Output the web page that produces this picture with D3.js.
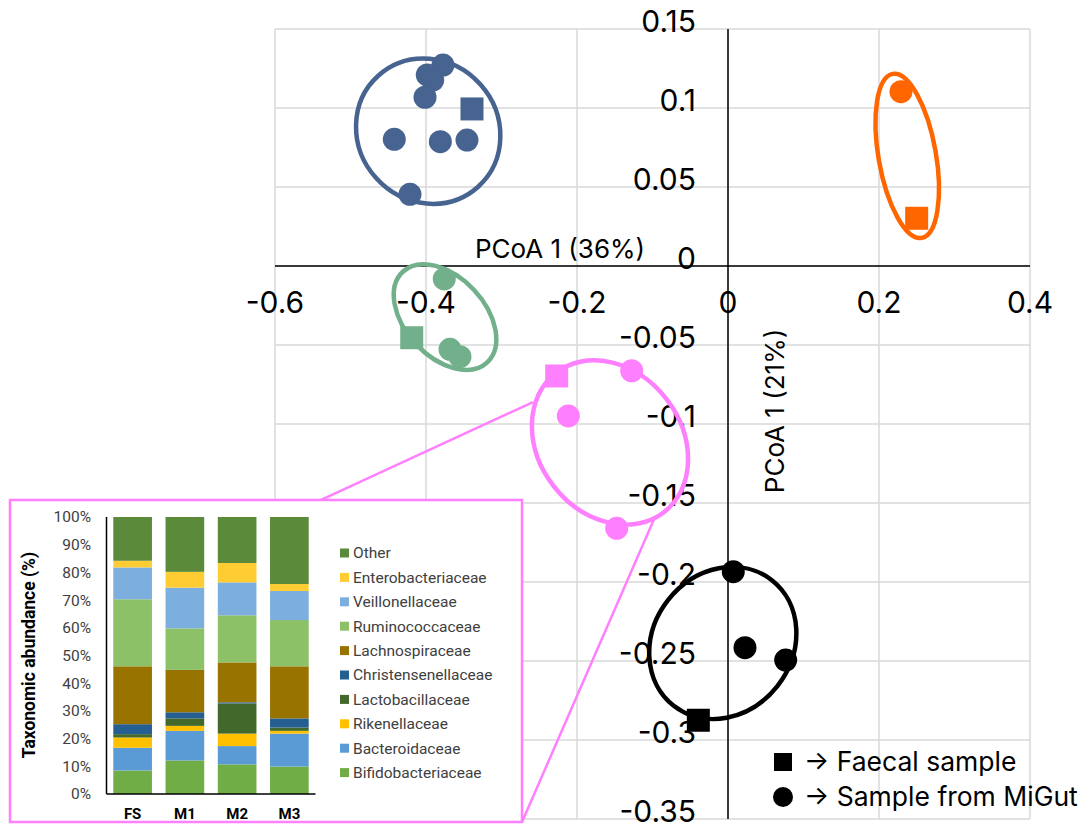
<!DOCTYPE html>
<html>
<head>
<meta charset="utf-8">
<script src="https://cdn.jsdelivr.net/npm/d3@7"></script>
<style>
  body { margin: 0; background: #fff; }
  svg { display: block; }
</style>
</head>
<body>
<svg id="chart" width="1086" height="824"></svg>
<script>
// ---- main PCoA data ----
const xTicks = [-0.6, -0.4, -0.2, 0, 0.2, 0.4];
const yTicks = [0.15, 0.1, 0.05, 0, -0.05, -0.1, -0.15, -0.2, -0.25, -0.3, -0.35];

const groupNames = ["blue", "orange", "green", "pink", "black"];
const groupColors = ["#476390", "#ff6600", "#72b08c", "#ff80ff", "#000000"];

// samples: group, PCoA1, PCoA2, type
const sampleGroup = ["blue", "blue", "blue", "blue", "blue", "blue", "blue", "blue", "blue",
    "orange", "orange",
    "green", "green", "green", "green",
    "pink", "pink", "pink", "pink",
    "black", "black", "black", "black"];
const sampleX = [-0.3775, -0.3983, -0.3911, -0.4013, -0.4420, -0.3810, -0.3457, -0.4212, -0.3391,
    0.2291, 0.2499,
    -0.3758, -0.3682, -0.3550, -0.4189,
    -0.2269, -0.1276, -0.2115, -0.1474,
    0.0070, 0.0225, 0.0764, -0.0393];
const sampleY = [0.1272, 0.1209, 0.1177, 0.1068, 0.0802, 0.0787, 0.0797, 0.0454, 0.0994,
    0.1103, 0.0302,
    -0.0082, -0.0527, -0.0574, -0.0454,
    -0.0696, -0.0663, -0.0949, -0.1660,
    -0.1935, -0.2416, -0.2494, -0.2875];
const sampleType = ["migut", "migut", "migut", "migut", "migut", "migut", "migut", "migut", "faecal",
    "migut", "faecal",
    "migut", "migut", "migut", "faecal",
    "faecal", "migut", "migut", "migut",
    "migut", "migut", "migut", "faecal"];

// group ellipses: centre (data), semi axes (in PCoA1 units), rotation (deg)
const ellipseCX = [-0.3971, 0.2374, -0.3748, -0.1563, -0.0069];
const ellipseCY = [0.0853, 0.0697, -0.0323, -0.1117, -0.2386];
const ellipseA = [0.0989, 0.1103, 0.0820, 0.1167, 0.1056];
const ellipseB = [0.0928, 0.0380, 0.0526, 0.0944, 0.0921];
const ellipseAngle = [48, 80, 47, 52, -52];

// zoom lines from the pink cluster to the inset
const zoomX1 = [-0.5404, -0.0967];
const zoomY1 = [-0.1484, -0.1589];
const zoomX2 = [-0.2583, -0.2728];
const zoomY2 = [-0.0861, -0.3519];

// ---- inset stacked bar data ----
const categories = ["FS", "M1", "M2", "M3"];
const taxa = ["Bifidobacteriaceae", "Bacteroidaceae", "Rikenellaceae", "Lactobacillaceae",
    "Christensenellaceae", "Lachnospiraceae", "Ruminococcaceae", "Veillonellaceae",
    "Enterobacteriaceae", "Other"];
const bifido = [8.5, 12.1, 10.7, 9.9];
const bactero = [8.2, 10.7, 6.6, 11.9];
const riken = [3.7, 1.8, 4.5, 1.0];
const lacto = [1.2, 2.7, 10.9, 1.2];
const christ = [3.6, 2.2, 0.4, 3.3];
const lachno = [20.9, 15.3, 14.4, 18.8];
const rumino = [24.2, 15.0, 17.0, 16.7];
const veillon = [11.5, 14.7, 11.9, 10.5];
const entero = [2.4, 5.7, 7.0, 2.5];
const other = [15.8, 19.8, 16.6, 24.2];
const taxaColors = ["#70ad47", "#5b9bd5", "#ffc000", "#43682b", "#255e91",
    "#997300", "#8cc168", "#7cafdd", "#ffcd33", "#5a8a3a"];
const pctTicks = [0, 10, 20, 30, 40, 50, 60, 70, 80, 90, 100];

const svg = d3.select("#chart");
const mainFont = "Inter, 'Noto Sans', sans-serif";
const insetFont = "Roboto, 'Liberation Sans', sans-serif";

// scales
let x = d3.scaleLinear().domain([-0.6, 0.4]).range([275, 1030]);
let y = d3.scaleLinear().domain([0.15, -0.35]).range([29, 819]);
let color = d3.scaleOrdinal().domain(groupNames).range(groupColors);

// grid
let grid = svg.append("g");
grid.selectAll(".vg").data(xTicks).enter().append("line")
    .attr("x1", d => x(d)).attr("x2", d => x(d))
    .attr("y1", y(0.15)).attr("y2", y(-0.35))
    .attr("stroke", "#d9d9d9").attr("stroke-width", 1.5);
grid.selectAll(".hg").data(yTicks).enter().append("line")
    .attr("x1", x(-0.6)).attr("x2", x(0.4))
    .attr("y1", d => y(d)).attr("y2", d => y(d))
    .attr("stroke", "#d9d9d9").attr("stroke-width", 1.5);

// axes through origin
svg.append("line").attr("x1", x(-0.6)).attr("x2", x(0.4))
    .attr("y1", y(0)).attr("y2", y(0)).attr("stroke", "#000").attr("stroke-width", 1.5);
svg.append("line").attr("x1", x(0)).attr("x2", x(0))
    .attr("y1", y(0.15)).attr("y2", y(-0.35)).attr("stroke", "#000").attr("stroke-width", 1.5);

// tick labels (plain hyphen minus, like the original)
svg.append("g").selectAll("text").data(xTicks).enter().append("text")
    .attr("x", d => x(d)).attr("y", y(0) + 47)
    .attr("text-anchor", "middle")
    .style("font-family", mainFont).style("font-size", "30px")
    .text(d => String(d));
svg.append("g").selectAll("text").data(yTicks).enter().append("text")
    .attr("x", x(0) - 32).attr("y", d => y(d) + 3)
    .attr("text-anchor", "end")
    .style("font-family", mainFont).style("font-size", "30px")
    .text(d => String(d));

// axis titles
svg.append("text").attr("x", 560).attr("y", 258)
    .attr("text-anchor", "middle")
    .style("font-family", mainFont).style("font-size", "26px")
    .text("PCoA 1 (36%)");
svg.append("text")
    .attr("transform", "translate(784,411) rotate(-90)")
    .attr("text-anchor", "middle")
    .style("font-family", mainFont).style("font-size", "26px")
    .text("PCoA 1 (21%)");

// ellipses
svg.append("g").selectAll("ellipse").data(groupNames).enter().append("ellipse")
    .attr("transform", (d, i) => "translate(" + x(ellipseCX[i]) + "," + y(ellipseCY[i]) + ") rotate(" + ellipseAngle[i] + ")")
    .attr("rx", (d, i) => x(ellipseA[i]) - x(0))
    .attr("ry", (d, i) => x(ellipseB[i]) - x(0))
    .attr("fill", "none")
    .attr("stroke", d => color(d))
    .attr("stroke-width", 4.5);

// samples
let samples = sampleX.map((v, i) => ({x: v, y: sampleY[i], group: sampleGroup[i], type: sampleType[i]}));
let pts = svg.append("g");
pts.selectAll("circle").data(samples.filter(d => d.type === "migut")).enter().append("circle")
    .attr("cx", d => x(d.x)).attr("cy", d => y(d.y)).attr("r", 11.5)
    .attr("fill", d => color(d.group));
pts.selectAll("rect").data(samples.filter(d => d.type === "faecal")).enter().append("rect")
    .attr("x", d => x(d.x) - 11.5).attr("y", d => y(d.y) - 11.5)
    .attr("width", 23).attr("height", 23)
    .attr("fill", d => color(d.group));

// zoom connector lines
svg.append("g").selectAll("line").data(zoomX1).enter().append("line")
    .attr("x1", d => x(d)).attr("y1", (d, i) => y(zoomY1[i]))
    .attr("x2", (d, i) => x(zoomX2[i])).attr("y2", (d, i) => y(zoomY2[i]))
    .attr("stroke", "#ff80ff").attr("stroke-width", 2.5);

// ---- inset ----
let inset = svg.append("g");
inset.append("rect").attr("x", 10).attr("y", 500).attr("width", 512).attr("height", 322)
    .attr("fill", "#fff").attr("stroke", "#ff80ff").attr("stroke-width", 2.5);

let bx = d3.scaleBand().domain(categories).range([106.5, 315.5]).paddingInner(0.26).paddingOuter(0.13);
let by = d3.scaleLinear().domain([0, 100]).range([794, 517]);

let table = categories.map((c, i) => ({
    cat: c,
    Bifidobacteriaceae: bifido[i], Bacteroidaceae: bactero[i], Rikenellaceae: riken[i],
    Lactobacillaceae: lacto[i], Christensenellaceae: christ[i], Lachnospiraceae: lachno[i],
    Ruminococcaceae: rumino[i], Veillonellaceae: veillon[i], Enterobacteriaceae: entero[i],
    Other: other[i]
}));
let stacked = d3.stack().keys(taxa)(table);

inset.append("g").selectAll("g").data(stacked).enter().append("g")
    .attr("fill", (d, i) => taxaColors[i])
    .selectAll("rect").data(d => d).enter().append("rect")
    .attr("x", d => bx(d.data.cat))
    .attr("width", bx.bandwidth())
    .attr("y", d => by(d[1]))
    .attr("height", d => by(d[0]) - by(d[1]));

inset.append("line").attr("x1", 106.5).attr("x2", 106.5).attr("y1", by(100)).attr("y2", by(0))
    .attr("stroke", "#000").attr("stroke-width", 1.5);
inset.append("line").attr("x1", 106.5).attr("x2", 315.5).attr("y1", by(0)).attr("y2", by(0))
    .attr("stroke", "#000").attr("stroke-width", 1.5);

inset.append("g").selectAll("text").data(pctTicks).enter().append("text")
    .attr("x", 91).attr("y", d => by(d)).attr("dy", "0.35em")
    .attr("text-anchor", "end")
    .style("font-family", insetFont).style("font-size", "15.5px").attr("fill", "#404040")
    .text(d => d + "%");

inset.append("g").selectAll("text").data(categories).enter().append("text")
    .attr("x", d => bx(d) + bx.bandwidth() / 2).attr("y", 814).attr("dy", "0.35em")
    .attr("text-anchor", "middle")
    .style("font-family", insetFont).style("font-size", "15px").style("font-weight", "bold")
    .text(d => d);

inset.append("text")
    .attr("transform", "translate(29,655) rotate(-90)").attr("dy", "0.35em")
    .attr("text-anchor", "middle")
    .style("font-family", insetFont).style("font-size", "17.5px").style("font-weight", "bold")
    .text("Taxonomic abundance (%)");

let legendRows = taxa.slice().reverse();
let leg = inset.append("g").selectAll("g").data(legendRows).enter().append("g")
    .attr("transform", (d, i) => "translate(340," + (553 + i * 24.4) + ")");
leg.append("rect").attr("x", 0).attr("y", -4.5).attr("width", 9).attr("height", 9)
    .attr("fill", d => taxaColors[taxa.indexOf(d)]);
leg.append("text").attr("x", 13).attr("dy", "0.35em")
    .style("font-family", insetFont).style("font-size", "15.5px").attr("fill", "#404040")
    .text(d => d);

// ---- symbol key ----
let key = svg.append("g").style("font-family", mainFont).style("font-size", "26.5px");
key.append("rect").attr("x", 774).attr("y", 753).attr("width", 18).attr("height", 18).attr("fill", "#000");
key.append("text").attr("x", 804).attr("y", 771).text("\u2192 Faecal sample");
key.append("circle").attr("cx", 783).attr("cy", 797).attr("r", 10).attr("fill", "#000");
key.append("text").attr("x", 804).attr("y", 806).text("\u2192 Sample from MiGut");
</script>
</body>
</html>
